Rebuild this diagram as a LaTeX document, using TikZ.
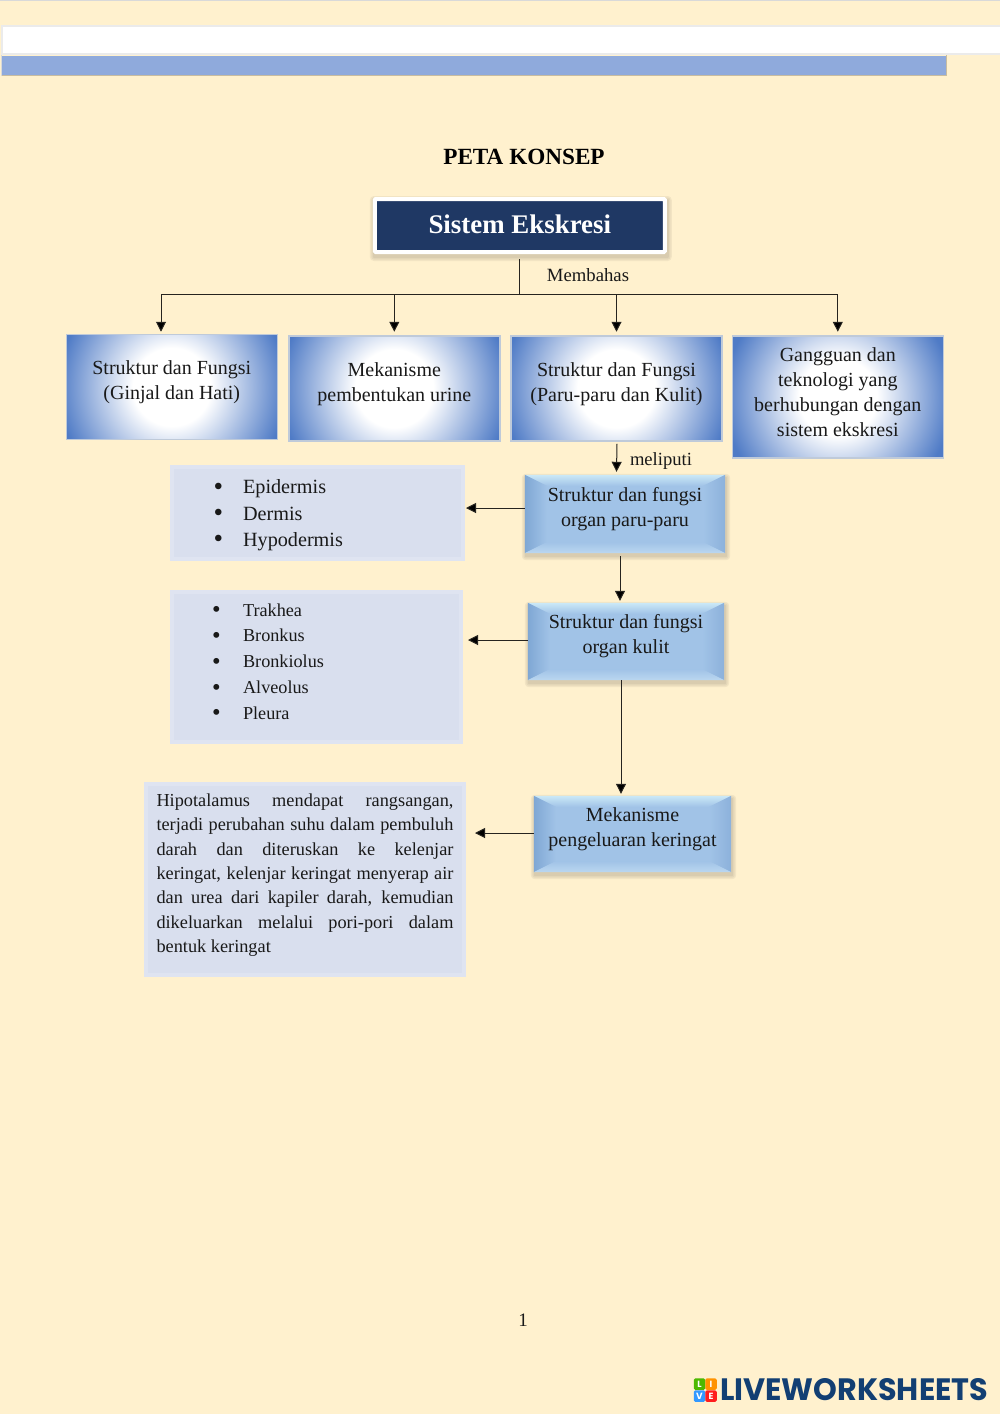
\documentclass[tikz,border=0pt]{standalone}
\usepackage{fontspec}
\setmainfont{Liberation Serif}
\newfontfamily\logofont{Poppins}
\usetikzlibrary{arrows.meta,backgrounds}
\definecolor{pagebg}{HTML}{FFF1CE}
\definecolor{barblue}{HTML}{8FAADC}
\definecolor{navy}{HTML}{1F3864}
\definecolor{glowblue}{HTML}{4F7BC6}
\definecolor{panel}{HTML}{D9DFEE}
\definecolor{panelrim}{HTML}{DFE4F1}
\definecolor{bevelmid}{HTML}{A1C3E7}
\definecolor{bevtop}{HTML}{CBE9F7}
\definecolor{bevleft}{HTML}{7FA7D4}
\definecolor{bevright}{HTML}{8CB1DB}
\definecolor{bevbot}{HTML}{BBD7F0}
\definecolor{logoblue}{HTML}{123F73}
\definecolor{glowrim}{HTML}{BFCAD9}
\pgfdeclareradialshading{glow}{\pgfpoint{0bp}{0bp}}{color(0bp)=(white);color(7.5bp)=(white);color(22bp)=(glowblue);color(50bp)=(glowblue)}
\newcommand{\up}[2]{\raisebox{#1}[0pt][0pt]{\begin{tabular}{@{}c@{}}#2\end{tabular}}}
\newcommand{\fsz}[2]{\fontsize{#1}{#2}\selectfont}
\newcommand{\bigdot}{\raisebox{-.07em}{\scalebox{1.35}{\textbullet}}}
\newcommand{\softshadow}[1]{%
  \foreach \g in {4,2.5,1}{
    \fill[black,opacity=.05,rounded corners=\g]
      ([xshift=-\g+1,yshift=\g-3]#1.north west) rectangle ([xshift=\g+1,yshift=-\g-3]#1.south east);}}
\newcommand{\bevel}[1]{%
  \begin{scope}[on background layer]
  \softshadow{#1}
  \fill[bevelmid] (#1.north west) rectangle (#1.south east);
  \shade[top color=bevtop,bottom color=bevelmid]
    (#1.north west)--(#1.north east)--([xshift=-22,yshift=-11]#1.north east)--([xshift=22,yshift=-11]#1.north west)--cycle;
  \shade[left color=bevleft,right color=bevelmid]
    (#1.north west)--([xshift=22,yshift=-11]#1.north west)--([xshift=22,yshift=11]#1.south west)--(#1.south west)--cycle;
  \shade[right color=bevright,left color=bevelmid]
    (#1.north east)--([xshift=-22,yshift=-11]#1.north east)--([xshift=-22,yshift=11]#1.south east)--(#1.south east)--cycle;
  \shade[bottom color=bevbot,top color=bevelmid]
    (#1.south west)--(#1.south east)--([xshift=-22,yshift=11]#1.south east)--([xshift=22,yshift=11]#1.south west)--cycle;
  \end{scope}}
\tikzset{
  glowbox/.style={draw=glowrim,line width=1.5,inner sep=0,align=center,
    font=\fsz{20}{25},text=black!90,
    path picture={\shade[shading=glow] (path picture bounding box.center) circle (130);}},
  bevelbox/.style={inner sep=0,align=center,font=\fsz{20}{25},text=black!90},
  panelbox/.style={fill=panel,draw=panelrim,line width=4,inner sep=0,text=black!90},
  plain/.style={inner sep=0,text=black!90},
  conn/.style={draw=black!85!pagebg,line width=1},
  arr/.style={conn,-{Triangle[length=10,width=10,fill=black]}},
  tile/.style={inner sep=0,minimum size=11.5,rounded corners=1.5,text=white,font=\fsz{9}{9}\bfseries\logofont}
}
\begin{document}
\begin{tikzpicture}[x=1pt,y=-1pt]
\useasboundingbox (0,0) rectangle (1000,1414);
\begin{scope}[on background layer]
\fill[pagebg] (0,0) rectangle (1000,1414);
\fill[black!15] (0,0) rectangle (1000,1);
\end{scope}
% header bands
\fill[white] (2,26.5) rectangle (1000,53);
\draw[black!8,line width=1.2] (1000,26) -- (2,26) -- (2,54) -- (1000,54);
\fill[barblue] (2,55.5) rectangle (946,75);
\draw[black!22!pagebg,line width=1] (2,75.5) -- (946,75.5) -- (946,55);
\draw[black!15,line width=1] (1.5,55) -- (1.5,75.5);
% title
\node[plain,font=\fsz{23.2}{25}\bfseries,text=black] (title) at (524,157) {PETA KONSEP};
% root
\node[fill=navy,draw=white,line width=4,rounded corners=1,inner sep=0,minimum width=290,minimum height=53,
  text=white,font=\fsz{26.9}{30}\bfseries] (sys) at (519.8,225.5) {\raisebox{-8pt}[0pt][0pt]{Sistem Ekskresi}};
\begin{scope}[on background layer]\softshadow{sys}\end{scope}
\node[plain,font=\fsz{18.7}{22}] (mem) at (588,275) {Membahas};
% four topics
\node[glowbox,minimum width=211,minimum height=105] (b1) at (171.8,387) {\up{0pt}{Struktur dan Fungsi\\(Ginjal dan Hati)}};
\node[glowbox,minimum width=211,minimum height=105] (b2) at (394.3,388.5) {\up{-1pt}{Mekanisme\\pembentukan urine}};
\node[glowbox,minimum width=211,minimum height=105] (b3) at (616.5,388.5) {\up{-1pt}{Struktur dan Fungsi\\(Paru-paru dan Kulit)}};
\node[glowbox,minimum width=211,minimum height=122] (b4) at (837.8,397) {\up{-2pt}{Gangguan dan\\teknologi yang\\berhubungan dengan\\sistem ekskresi}};
% connectors from root
\coordinate (j) at (519,294);
\draw[conn,shorten <=5] (sys.south -| j) -- (j);
\draw[arr] (j) -| ([xshift=-10.8,yshift=2]b1.north);
\draw[arr] (j) -| ([yshift=3.5]b2.north);
\draw[arr] (j) -| ([yshift=3.5]b3.north);
\draw[arr] (j) -| ([yshift=3.5]b4.north);
% bevel boxes
\node[bevelbox,minimum width=200,minimum height=78] (s1) at (625,514) {\up{0pt}{Struktur dan fungsi\\organ paru-paru}};
\node[bevelbox,minimum width=196,minimum height=77] (s2) at (626,641.5) {\up{0pt}{Struktur dan fungsi\\organ kulit}};
\node[bevelbox,minimum width=197,minimum height=76] (s3) at (632.5,834) {\up{0pt}{Mekanisme\\pengeluaran keringat}};
\bevel{s1}\bevel{s2}\bevel{s3}
% panels
\node[panelbox,minimum width=291,minimum height=92,font=\fsz{20.2}{26.3}] (l1) at (317.5,513)
 {\raisebox{-7pt}[0pt][0pt]{\hspace*{17.5pt}\begin{tabular}{@{}p{29.5pt}@{}l@{}}\bigdot&Epidermis\\\bigdot&Dermis\\\bigdot&Hypodermis\end{tabular}\hspace*{96pt}}};
\node[panelbox,minimum width=289,minimum height=150,font=\fsz{18.2}{25.9}] (l2) at (316.5,667)
 {\raisebox{0pt}[0pt][0pt]{\hspace*{13pt}\begin{tabular}{@{}p{31pt}@{}l@{}}\bigdot&Trakhea\\\bigdot&Bronkus\\\bigdot&Bronkiolus\\\bigdot&Alveolus\\\bigdot&Pleura\end{tabular}\hspace*{110pt}}};
\node[panelbox,minimum width=318,minimum height=191,font=\fsz{18.3}{24.4}] (l3) at (305,879.5)
 {\raisebox{0pt}[0pt][0pt]{\parbox{297pt}{\emergencystretch=2em\hbadness=10000\hfuzz=6pt
 Hipotalamus mendapat rangsangan, \linebreak terjadi perubahan suhu dalam pembuluh \linebreak darah dan diteruskan ke kelenjar \linebreak keringat, kelenjar keringat menyerap air \linebreak dan urea dari kapiler darah, kemudian \linebreak dikeluarkan melalui pori-pori dalam \linebreak bentuk keringat}}};
% lower connectors
\node[plain,font=\fsz{18.6}{22}] (mel) at (661,461) {meliputi};
\draw[arr] ([xshift=0.5,yshift=-2]b3.south) -- ([yshift=3]s1.north -| b3.south);
\draw[arr] ([xshift=-5,yshift=-3]s1.south) -- ([xshift=-6,yshift=2]s2.north);
\draw[arr] ([xshift=-5]s2.south) -- ([xshift=-11.5,yshift=2]s3.north);
\draw[arr] ([yshift=6]s1.west) -- ([xshift=1,yshift=6]s1.west -| l1.east);
\draw[arr] ([yshift=1.5]s2.west) -- ([xshift=5,yshift=1.5]s2.west -| l2.east);
\draw[arr] ([yshift=1]s3.west) -- ([xshift=9,yshift=1]s3.west -| l3.east);
% page number
\node[plain,font=\fsz{19}{22}] (pg) at (523,1320) {1};
% logo
\node[tile,fill=green!60!black!70!yellow] (tl) at (699.5,1384) {L};
\node[tile,fill=orange!85!yellow] (ti) at (711,1384) {I};
\node[tile,fill=blue!50!cyan!80!white] (tv) at (699.5,1396) {V};
\node[tile,fill=red!85!pink] (te) at (711,1396) {E};
\node[inner sep=0,anchor=west,text=logoblue] (logo) at (720,1390) {\resizebox{268pt}{22pt}{\logofont\bfseries LIVEWORKSHEETS}};
\end{tikzpicture}
\end{document}
